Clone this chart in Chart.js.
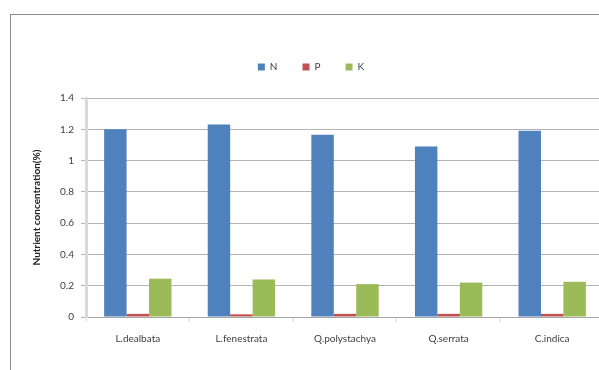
<!DOCTYPE html>
<html>
<head>
<meta charset="utf-8">
<script src="https://cdn.jsdelivr.net/npm/chart.js@4/dist/chart.umd.min.js"></script>
<style>
  html, body { margin: 0; padding: 0; background: #fff; overflow: hidden; }
  #wrap { position: relative; width: 599px; height: 370px; overflow: hidden; }
  #frame { position: absolute; left: 10px; top: 14px; width: 600px; height: 370px;
           border-left: 1px solid #8c8c8c; border-top: 1px solid #8c8c8c; }
  canvas { position: absolute; left: 0; top: 0; }
</style>
</head>
<body>
<div id="wrap">
  <div id="frame"></div>
  <canvas id="nutrientChart" width="620" height="370"></canvas>
</div>
<script>
// Species and nutrient concentration values (%)
const species = ['L.dealbata', 'L.fenestrata', 'Q.polystachya', 'Q.serrata', 'C.indica'];
const nitrogen = [1.20, 1.23, 1.165, 1.09, 1.19];
const phosphorus = [0.02, 0.017, 0.02, 0.02, 0.02];
const potassium = [0.245, 0.24, 0.21, 0.22, 0.225];

const fontFamily = 'Lato, "Liberation Sans", sans-serif';

// shrink legend box to a fixed height
const legendFit = {
    id: 'legendFit',
    beforeInit(chart) {
        const origFit = chart.legend.fit;
        chart.legend.fit = function () {
            origFit.bind(chart.legend)();
            this.height = 61;
        };
    }
};

const ctx = document.getElementById('nutrientChart').getContext('2d');
new Chart(ctx, {
    type: 'bar',
    data: {
        labels: species,
        datasets: [
            { label: 'N', data: nitrogen, backgroundColor: '#4F81BD' },
            { label: 'P', data: phosphorus, backgroundColor: '#C0504D' },
            { label: 'K', data: potassium, backgroundColor: '#9BBB59' }
        ]
    },
    plugins: [legendFit],
    options: {
        responsive: false,
        animation: false,
        layout: { padding: { top: 37, right: 16, bottom: 0, left: 18 } },
        datasets: { bar: { barPercentage: 1, categoryPercentage: 0.65 } },
        plugins: {
            tooltip: { enabled: false },
            legend: {
                position: 'top',
                labels: {
                    boxWidth: 7,
                    boxHeight: 7,
                    padding: 25,
                    color: '#404040',
                    font: { family: fontFamily, size: 10 }
                }
            }
        },
        scales: {
            x: {
                afterFit(scale) { scale.height = 53; },
                border: { color: '#a6a6a6', width: 1 },
                grid: { drawOnChartArea: false, drawTicks: true, tickLength: 5, color: '#d9d9d9' },
                ticks: { color: '#404040', padding: 11, font: { family: fontFamily, size: 10 } }
            },
            y: {
                min: 0,
                max: 1.4,
                afterFit(scale) { scale.width = 68; },
                border: { color: '#d9d9d9', width: 3 },
                grid: { color: '#b3b3b3', tickLength: 5, drawTicks: true },
                ticks: {
                    stepSize: 0.2,
                    color: '#404040',
                    padding: 7,
                    font: { family: fontFamily, size: 10 },
                    callback: value => String(Math.round(value * 10) / 10)
                },
                title: {
                    display: true,
                    text: 'Nutrient concentration(%)',
                    color: '#262626',
                    padding: { top: 13, bottom: 0 },
                    font: { family: fontFamily, size: 10, weight: 'bold' }
                }
            }
        }
    }
});
</script>
</body>
</html>
